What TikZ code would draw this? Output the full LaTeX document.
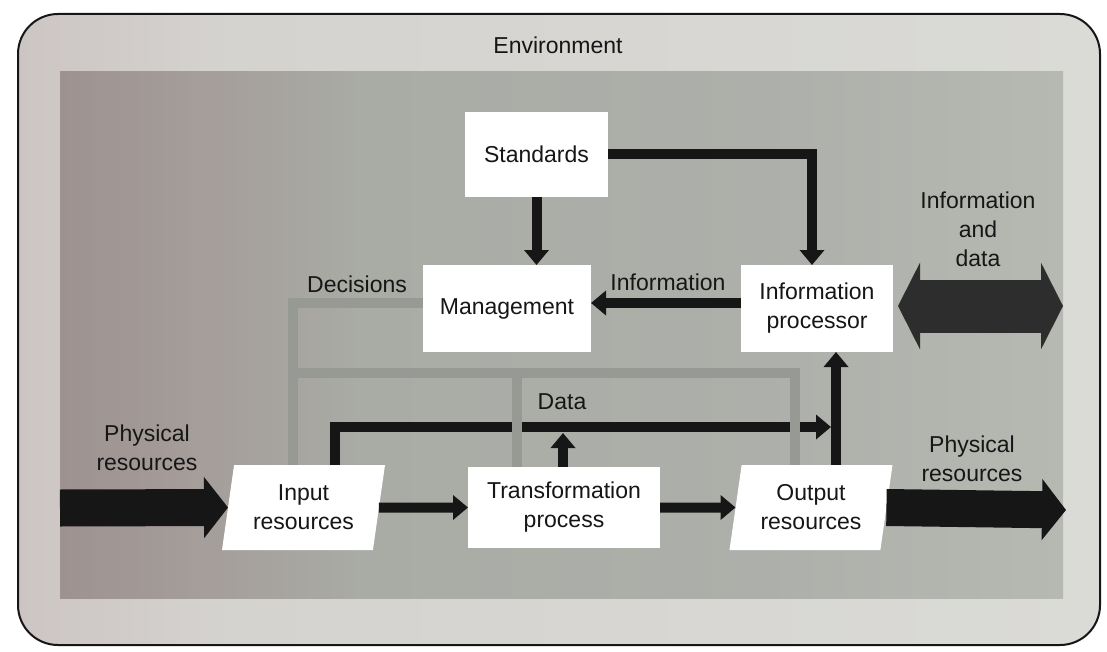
\documentclass[tikz,border=0pt]{standalone}
\usepackage{fontspec}
\newfontfamily\labfont{Liberation Sans}
\usetikzlibrary{arrows.meta,shapes.geometric,calc}

\definecolor{greyflow}{HTML}{979995}
\definecolor{ink}{HTML}{161616}

% backgrounds: warmer on the left, cooler grey-green towards the right
\pgfdeclarehorizontalshading{systemarea}{100bp}{%
  color(0bp)=(rgb,255:red,157;green,146;blue,144);
  color(25bp)=(rgb,255:red,157;green,146;blue,144);
  color(31bp)=(rgb,255:red,164;green,156;blue,153);
  color(40bp)=(rgb,255:red,169;green,171;blue,165);
  color(60bp)=(rgb,255:red,173;green,176;blue,170);
  color(75bp)=(rgb,255:red,181;green,185;blue,178);
  color(100bp)=(rgb,255:red,181;green,185;blue,178)}
\pgfdeclarehorizontalshading{envarea}{100bp}{%
  color(0bp)=(rgb,255:red,204;green,197;blue,195);
  color(25bp)=(rgb,255:red,204;green,197;blue,195);
  color(35bp)=(rgb,255:red,213;green,211;blue,208);
  color(75bp)=(rgb,255:red,218;green,218;blue,215);
  color(100bp)=(rgb,255:red,218;green,218;blue,215)}

\tikzset{
  lab/.style={font=\labfont\fontsize{23}{29}\selectfont, text=ink, align=center},
  box/.style={lab, draw=none, fill=white, inner sep=0pt, outer sep=0pt},
  para/.style={box, shape=trapezium, trapezium left angle=75,
               trapezium right angle=105, trapezium stretches body,
               minimum width=163pt, minimum height=85pt},
  flow/.style={draw=ink, line width=10pt, line join=miter,
               -{Triangle[length=15pt,width=24pt]}},
  decflow/.style={draw=greyflow, line width=10pt, line join=miter},
  bigflow/.style={draw=ink, line width=37pt,
                  -{Triangle[length=24pt,width=60pt]}},
  dualflow/.style={draw=ink!90!white, line width=53pt,
                   {Triangle[length=22pt,width=86pt]}-{Triangle[length=22pt,width=86pt]}},
}

\begin{document}
\begin{tikzpicture}[x=1pt,y=-1pt]
  \useasboundingbox (0,0) rectangle (1107,652);
  \fill[white] (0,0) rectangle (1107,652);

  % environment frame and system area
  \shade[shading=envarea, draw=ink, line width=2pt, rounded corners=40pt]
        (18,14) rectangle (1100,645);
  \shade[shading=systemarea] (60,72) rectangle (1063,598);

  \node[lab] (env) at (558,45) {Environment};

  % blocks
  \node[box, minimum width=143pt, minimum height=85pt] (std) at (536.5,154.5) {Standards};
  \node[box, minimum width=168pt, minimum height=87pt] (mgmt) at (507,308.5) {Management};
  \node[box, minimum width=152pt, minimum height=87pt] (ip) at (817,308.5) {Information\\processor};
  \node[para] (inp) at (303.5,507.5) {Input\\resources};
  \node[box, minimum width=192pt, minimum height=81pt] (tp) at (564,507.5) {Transformation\\process};
  \node[para] (out) at (811,507.5) {Output\\resources};

  % free ends of the exchange arrows
  \coordinate (physin) at (60,508);
  \coordinate (physout) at (1066,510);
  \coordinate (infl) at (898,306);
  \coordinate (infr) at (1063,306);

  % data collected from the operations
  \draw[flow] (335,0 |- inp.north) |- (831,427);
  \draw[flow] (563,0 |- tp.north) -- (563,433);

  % decisions fed back to the operations
  \draw[decflow] (mgmt.west |- 0,303) -| (293,0 |- inp.north);
  \draw[decflow] (293,373) -| (795,0 |- out.north);
  \draw[decflow] (517,373) -- (517,0 |- tp.north);

  % information flows
  \draw[flow] (std.south) -- (std.south |- mgmt.north);
  \draw[flow] (std.east) -| (812,0 |- ip.north);
  \draw[flow] (ip.west |- 0,303) -- (mgmt.east |- 0,303);
  \draw[flow] (836,0 |- out.north) -- (836,0 |- ip.south);

  % physical flow through the system
  \draw[flow] (inp.east) -- (tp.west);
  \draw[flow] (tp.east) -- (out.west);
  \draw[bigflow] (physin) -- (inp.west);
  \draw[bigflow] (out.east) -- (physout);
  \draw[dualflow] (infl) -- (infr);

  % labels
  \node[lab] (decl) at (357,284) {Decisions};
  \node[lab] (infol) at (668,282) {Information};
  \node[lab] (datal) at (562,402) {Data};
  \node[lab] (physl) at (147,448) {Physical\\resources};
  \node[lab] (physr) at (972,459) {Physical\\resources};
  \node[lab] (infd) at (978,229) {Information\\and\\data};
\end{tikzpicture}
\end{document}
